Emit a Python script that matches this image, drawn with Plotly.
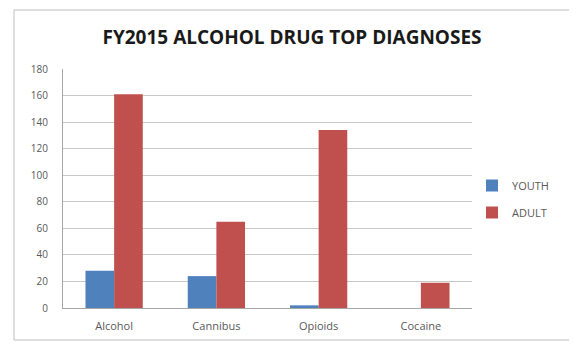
import plotly.graph_objects as go

categories = ["Alcohol", "Cannibus", "Opioids", "Cocaine"]
youth = [28, 24, 2, 0]
adult = [161, 65, 134, 19]
y_ticks = [0, 20, 40, 60, 80, 100, 120, 140, 160, 180]

fig = go.Figure()
fig.add_trace(go.Bar(name="YOUTH", x=categories, y=youth, marker_color="#4F81BD",
                     marker_line_width=0, legendgroup="y"))
fig.add_trace(go.Bar(name="ADULT", x=categories, y=adult, marker_color="#C0504D",
                     marker_line_width=0, legendgroup="a"))

# page body has an 8px margin, so lay out in page coordinates minus 8
OFF = 8
W, H = 577 - OFF, 346 - OFF
L, T = 63 - OFF, 69 - OFF
R = W - (472 - OFF)
B = H - (308 - OFF)
pw, ph = W - L - R, H - T - B

def px_x(x):
    return (x - OFF - L) / pw

def px_y(y):
    return (H - B - (y - OFF)) / ph

fig.update_layout(
    width=W, height=H,
    margin=dict(l=L, r=R, t=T, b=B),
    paper_bgcolor="white", plot_bgcolor="white",
    barmode="group", bargap=0.44, bargroupgap=0,
    font=dict(family="Open Sans, Liberation Sans, sans-serif", size=11, color="#595959"),
    title=dict(text="<b>FY2015 ALCOHOL DRUG TOP DIAGNOSES</b>", x=(292 - OFF) / W, xanchor="center",
               y=1 - (37 - OFF) / H, yanchor="middle",
               font=dict(size=19, color="#1a1a1a", family="Open Sans, Liberation Sans, sans-serif")),
    legend=dict(x=px_x(472), xanchor="left", y=px_y(199), yanchor="middle",
                font=dict(size=11, color="#595959"), tracegroupgap=8, itemwidth=30,
                traceorder="grouped", bgcolor="rgba(0,0,0,0)"),
    xaxis=dict(showgrid=False, showline=True, linecolor="#a6a6a6", linewidth=1,
               ticks="", ticklabelstandoff=8, tickfont=dict(size=11, color="#595959")),
    yaxis=dict(range=[0, 180], tickvals=y_ticks, showgrid=True, gridcolor="#c8c8c8",
               gridwidth=1, showline=True, linecolor="#a6a6a6", linewidth=1,
               zeroline=False, ticks="", ticklabelstandoff=12,
               tickfont=dict(size=10, color="#595959")),
    shapes=[dict(type="rect", xref="paper", yref="paper",
                 x0=px_x(14), x1=px_x(570), y0=px_y(340), y1=px_y(10),
                 line=dict(color="#bfbfbf", width=1), fillcolor="rgba(0,0,0,0)", layer="below")],
)

fig.write_html("out.html")
